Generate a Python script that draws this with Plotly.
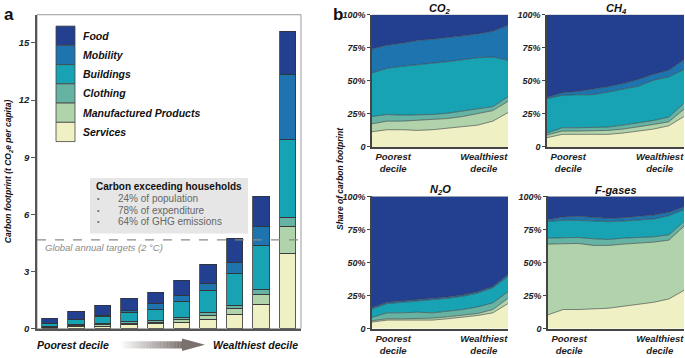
import plotly.graph_objects as go

W, H = 685, 358

# ---------------- data ----------------
categories = ["Services", "Manufactured Products", "Clothing", "Buildings", "Mobility", "Food"]
colors = ["#eff0c4", "#b0d3ab", "#67b3a3", "#17a3b4", "#1e74ae", "#233f90"]
deciles = list(range(1, 11))

# Panel a: carbon footprint (t CO2e per capita) by decile
services_a = [0.04, 0.09, 0.13, 0.19, 0.24, 0.32, 0.46, 0.71, 1.26, 3.94]
manuf_a    = [0.03, 0.06, 0.07, 0.08, 0.10, 0.17, 0.24, 0.33, 0.52, 1.43]
clothing_a = [0.03, 0.04, 0.07, 0.09, 0.07, 0.09, 0.13, 0.17, 0.25, 0.48]
build_a    = [0.14, 0.26, 0.34, 0.47, 0.59, 0.83, 1.14, 1.66, 2.30, 4.08]
mobility_a = [0.02, 0.04, 0.09, 0.14, 0.29, 0.32, 0.39, 0.60, 1.03, 3.42]
food_a     = [0.29, 0.41, 0.51, 0.58, 0.61, 0.77, 0.99, 1.24, 1.56, 2.25]
panel_a = [services_a, manuf_a, clothing_a, build_a, mobility_a, food_a]

yticks_a = [0, 3, 6, 9, 12, 15]
target_value = 4.66

# Panel b: share of carbon footprint (%) by gas
co2_services = [11.5, 13, 13, 12.5, 13, 14, 15, 16.5, 19.5, 26]
co2_manuf    = [6, 6.5, 6.5, 7.5, 7.5, 7.5, 8, 8.5, 8, 8.5]
co2_clothing = [5.5, 5, 4.5, 4, 4, 4, 4, 3.5, 3, 3.5]
co2_build    = [33, 35, 37, 38, 38.5, 39, 39, 39, 37.5, 27.5]
co2_mobility = [18, 17.5, 17.5, 18.5, 18.5, 18, 18, 18, 19.5, 26.5]
co2_food     = [26, 23, 21.5, 19.5, 18.5, 17.5, 16, 14.5, 12.5, 8]

ch4_services = [7, 9.5, 9.5, 9.5, 9.5, 10.5, 12, 13.5, 16, 23]
ch4_manuf    = [2, 2.5, 2.5, 2.5, 3, 3, 3, 3.5, 3, 5.5]
ch4_clothing = [1.5, 2.5, 2.5, 2.5, 2.5, 3, 3, 3, 3.5, 4.5]
ch4_build    = [26, 24.5, 25, 25, 26.5, 27, 28, 30.5, 30.5, 25.5]
ch4_mobility = [1, 2, 2.5, 4, 4, 4.5, 5, 4.5, 5, 7.5]
ch4_food     = [62.5, 59, 58, 56.5, 54.5, 52, 49, 45, 42, 34]

n2o_services = [5, 6.5, 6.5, 6.5, 6.5, 7.5, 8.5, 10, 12, 19]
n2o_manuf    = [1, 1, 1, 1, 1.5, 1.5, 1.5, 1.5, 2.5, 4]
n2o_clothing = [2.5, 4.5, 4.5, 5, 4, 4, 4.5, 5, 5, 5]
n2o_build    = [6.5, 7, 8, 8.5, 9.5, 10, 10, 10.5, 11.5, 11.5]
n2o_mobility = [1, 1, 1, 1, 1, 1, 1, 1, 1, 1.5]
n2o_food     = [84, 80, 79, 78, 77.5, 76, 74.5, 72, 68, 59]

fg_services = [10.5, 14.5, 14.5, 15, 15.5, 17, 18.5, 20, 22.5, 29]
fg_manuf    = [53.5, 50, 50, 48, 47.5, 47, 46, 45.5, 44.5, 48.5]
fg_clothing = [4.5, 4.5, 4.5, 5, 4.5, 4.5, 4.5, 4, 4, 3.5]
fg_build    = [12.5, 13, 13, 13.5, 13.5, 13, 13, 13.5, 14.5, 9]
fg_mobility = [1.5, 2.5, 3, 3, 2.5, 2.5, 3, 3, 2.5, 2]
fg_food     = [17.5, 15.5, 15, 15.5, 16.5, 16, 15, 14, 12, 8]

gas_titles = ["CO<sub>2</sub>", "CH<sub>4</sub>", "N<sub>2</sub>O", "F-gases"]
gas_data = [
    [co2_services, co2_manuf, co2_clothing, co2_build, co2_mobility, co2_food],
    [ch4_services, ch4_manuf, ch4_clothing, ch4_build, ch4_mobility, ch4_food],
    [n2o_services, n2o_manuf, n2o_clothing, n2o_build, n2o_mobility, n2o_food],
    [fg_services, fg_manuf, fg_clothing, fg_build, fg_mobility, fg_food],
]
share_ticks = [0, 25, 50, 75, 100]
share_ticktext = ["0", "25%", "50%", "75%", "100%"]
decile_ticktext = ["Poorest<br>decile", "Wealthiest<br>decile"]

box_title = "Carbon exceeding households"
box_items = ["24% of population", "78% of expenditure", "64% of GHG emissions"]

# ---------------- helpers ----------------
def fx(p):
    return p / W

def fy(p):
    return 1 - p / H

FONT = "Liberation Sans, Arial, Helvetica, sans-serif"

fig = go.Figure()

# ---------------- panel a ----------------
for cat, col, vals in zip(categories, colors, panel_a):
    fig.add_trace(go.Bar(
        x=[d - 1 for d in deciles], y=vals, name=cat,
        marker=dict(color=col, line=dict(color="#333333", width=0.8)),
        width=0.62, xaxis="x", yaxis="y", showlegend=False,
    ))

# ---------------- panel b ----------------
axis_ids = [("x2", "y2"), ("x3", "y3"), ("x4", "y4"), ("x5", "y5")]
for gi, (series, (xa, ya)) in enumerate(zip(gas_data, axis_ids)):
    for cat, col, vals in zip(categories, colors, series):
        fig.add_trace(go.Scatter(
            x=[d - 1 for d in deciles], y=vals, mode="lines",
            stackgroup=f"g{gi}", fillcolor=col,
            line=dict(color="#3a3a3a", width=0.6),
            xaxis=xa, yaxis=ya, showlegend=False, name=cat,
        ))

tickfont = dict(family=FONT, size=9.5, color="#222")

layout = dict(
    width=W, height=H,
    margin=dict(l=0, r=0, t=0, b=0),
    paper_bgcolor="white", plot_bgcolor="white",
    barmode="stack", bargap=0,
    showlegend=False,
    font=dict(family=FONT),
)

# panel a axes
layout["xaxis"] = dict(domain=[fx(37), fx(301)], range=[-0.5, 9.5], showticklabels=False,
                       ticks="", showgrid=False, zeroline=False, showline=True,
                       linecolor="#555", linewidth=1.5, anchor="y")
layout["yaxis"] = dict(domain=[fy(333), fy(10)], range=[0, (333 - 10) / 19.6],
                       tickvals=yticks_a, ticktext=[f"<b><i>{t}</i></b>" for t in yticks_a],
                       ticks="outside", ticklen=4, tickcolor="#555",
                       tickfont=tickfont, showgrid=False, zeroline=False,
                       showline=True, linecolor="#555", linewidth=1.5, anchor="x")

doms = {
    "2": ([fx(372), fx(508)], [fy(146), fy(10)]),
    "3": ([fx(547), fx(684)], [fy(146), fy(10)]),
    "4": ([fx(372), fx(508)], [fy(333), fy(197)]),
    "5": ([fx(548), fx(684)], [fy(333), fy(197)]),
}
for k, (dx, dy) in doms.items():
    layout["xaxis" + k] = dict(domain=dx, range=[0, 9], tickvals=[1.4, 7.4],
                               ticktext=[f"<b><i>{t}</i></b>" for t in decile_ticktext],
                               ticks="", tickfont=dict(family=FONT, size=9.5, color="#222"),
                               showgrid=False, zeroline=False, showline=True,
                               linecolor="#444", linewidth=1.5, anchor="y" + k)
    layout["yaxis" + k] = dict(domain=dy, range=[0, 100], tickvals=share_ticks,
                               ticktext=[f"<b><i>{t}</i></b>" for t in share_ticktext],
                               ticks="outside", ticklen=3, tickcolor="#444",
                               tickfont=dict(family=FONT, size=9, color="#222"),
                               showgrid=False, zeroline=False, showline=True,
                               linecolor="#444", linewidth=1.5, anchor="x" + k)

fig.update_layout(**layout)

shapes = []
annotations = []

# panel a frame (light)
shapes.append(dict(type="rect", xref="paper", yref="paper", x0=fx(37), x1=fx(301),
                   y0=fy(333), y1=fy(10), line=dict(color="#9a9a9a", width=1), layer="below"))

# target dashed line
shapes.append(dict(type="line", xref="x", yref="y", x0=-0.5, x1=9.5,
                   y0=target_value, y1=target_value,
                   line=dict(color="#8a8a8a", width=1.2, dash="dash"), layer="above"))
annotations.append(dict(xref="paper", yref="y", x=fx(43), y=target_value, yshift=-8,
                        xanchor="left", yanchor="middle", showarrow=False,
                        text="<i>Global annual targets (2 °C)</i>",
                        font=dict(family=FONT, size=9.5, color="#8a8a8a")))

# info box
shapes.append(dict(type="rect", xref="paper", yref="paper", x0=fx(90), x1=fx(248),
                   y0=fy(235), y1=fy(178), fillcolor="#e6e6e6", line=dict(width=0), layer="below"))
annotations.append(dict(xref="paper", yref="paper", x=fx(94), y=fy(187), xanchor="left",
                        yanchor="middle", showarrow=False, text=f"<b>{box_title}</b>",
                        font=dict(family=FONT, size=10, color="#111")))
for i, item in enumerate(box_items):
    yy = 199 + 12 * i
    annotations.append(dict(xref="paper", yref="paper", x=fx(95), y=fy(yy), xanchor="left",
                            yanchor="middle", showarrow=False, text="•",
                            font=dict(family=FONT, size=7, color="#666")))
    annotations.append(dict(xref="paper", yref="paper", x=fx(116), y=fy(yy), xanchor="left",
                            yanchor="middle", showarrow=False, text=item,
                            font=dict(family=FONT, size=10, color="#666")))

# legend (panel a)
box_h = 19.8
for i, (cat, col) in enumerate(zip(categories[::-1], colors[::-1])):
    y0 = 21.7 + i * box_h
    shapes.append(dict(type="rect", xref="paper", yref="paper", x0=fx(56), x1=fx(75),
                       y0=fy(y0 + box_h), y1=fy(y0), fillcolor=col,
                       line=dict(color="#444", width=0.8)))
    annotations.append(dict(xref="paper", yref="paper", x=fx(81), y=fy(y0 + box_h / 2),
                            xanchor="left", yanchor="middle", showarrow=False,
                            text=f"<b><i>{cat}</i></b>",
                            font=dict(family=FONT, size=10.5, color="#111")))

# bottom labels & gradient arrow
annotations.append(dict(xref="paper", yref="paper", x=fx(73), y=fy(350), showarrow=False,
                        xanchor="center", yanchor="middle", text="<b><i>Poorest decile</i></b>",
                        font=dict(family=FONT, size=10.5, color="#111")))
annotations.append(dict(xref="paper", yref="paper", x=fx(256), y=fy(350), showarrow=False,
                        xanchor="center", yanchor="middle", text="<b><i>Wealthiest decile</i></b>",
                        font=dict(family=FONT, size=10.5, color="#111")))
c0 = (248, 248, 248)
c1 = (122, 112, 109)
n = 40
xs, xe = 122.0, 184.0
for i in range(n):
    t = i / (n - 1)
    c = tuple(int(round(a + (b - a) * t)) for a, b in zip(c0, c1))
    shapes.append(dict(type="rect", xref="paper", yref="paper",
                       x0=fx(xs + (xe - xs) * i / n), x1=fx(xs + (xe - xs) * (i + 1) / n + 0.3),
                       y0=fy(353.3), y1=fy(346), fillcolor=f"rgb{c}", line=dict(width=0)))
shapes.append(dict(type="path", xref="paper", yref="paper",
                   path=f"M {fx(182)} {fy(343)} L {fx(205)} {fy(349.6)} L {fx(182)} {fy(356)} Z",
                   fillcolor=f"rgb{c1}", line=dict(width=0)))

# panel letters
annotations.append(dict(xref="paper", yref="paper", x=fx(2), y=fy(10), xanchor="left",
                        yanchor="middle", showarrow=False, text="<b>a</b>",
                        font=dict(family=FONT, size=17, color="#111")))
annotations.append(dict(xref="paper", yref="paper", x=fx(331), y=fy(10), xanchor="left",
                        yanchor="middle", showarrow=False, text="<b>b</b>",
                        font=dict(family=FONT, size=17, color="#111")))

# axis titles
annotations.append(dict(xref="paper", yref="paper", x=fx(8), y=fy(171), textangle=-90,
                        showarrow=False, xanchor="center", yanchor="middle",
                        text="<b><i>Carbon footprint (t CO<sub>2</sub>e per capita)</i></b>",
                        font=dict(family=FONT, size=8.5, color="#111")))
annotations.append(dict(xref="paper", yref="paper", x=fx(340), y=fy(179), textangle=-90,
                        showarrow=False, xanchor="center", yanchor="middle",
                        text="<b><i>Share of carbon footprint</i></b>",
                        font=dict(family=FONT, size=8.5, color="#111")))

# gas titles
title_pos = [(440, 4), (616, 4), (440, 190), (616, 190)]
for t, (px_, py_) in zip(gas_titles, title_pos):
    annotations.append(dict(xref="paper", yref="paper", x=fx(px_), y=fy(py_), xanchor="center",
                            yanchor="middle", showarrow=False, text=f"<b><i>{t}</i></b>",
                            font=dict(family=FONT, size=11, color="#111")))

fig.update_layout(shapes=shapes, annotations=annotations)
fig.write_html("out.html", config={"displayModeBar": False},
               post_script="document.body.style.margin='0px';")
